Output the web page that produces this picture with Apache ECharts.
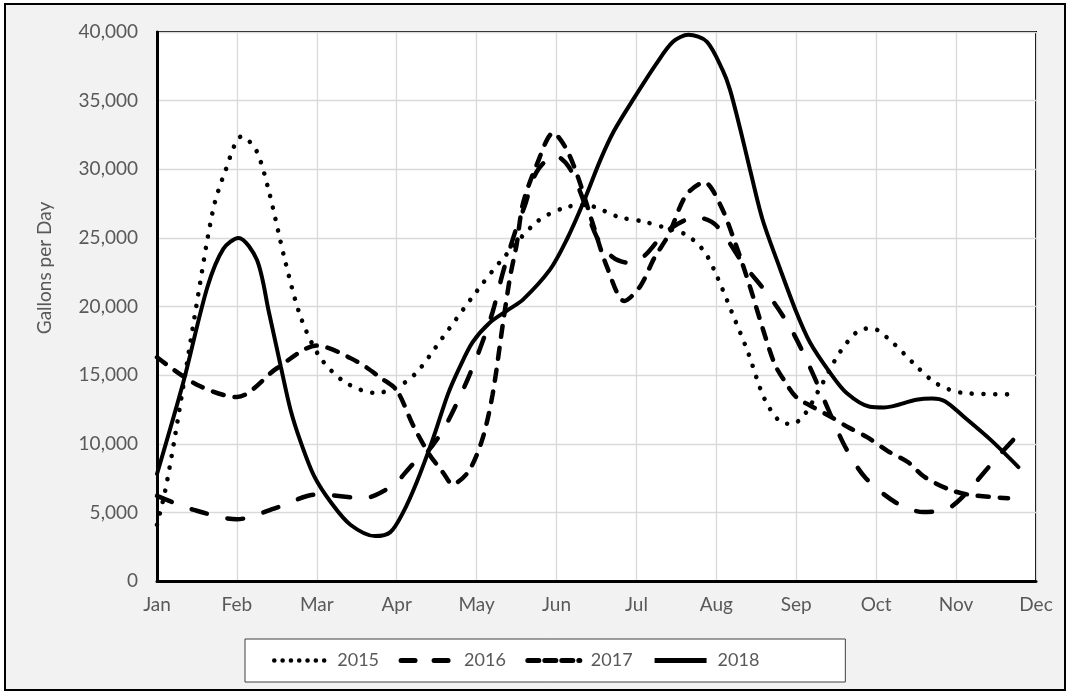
<!DOCTYPE html>
<html>
<head>
<meta charset="utf-8">
<script src="https://cdn.jsdelivr.net/npm/echarts@6/dist/echarts.min.js"></script>
<style>
  html, body { margin: 0; padding: 0; background: #ffffff; }
  #chart { width: 1071px; height: 696px; }
</style>
</head>
<body>
<div id="chart"></div>
<script>
// Month tick labels along the x axis (one tick per month start).
const monthLabels = ['Jan', 'Feb', 'Mar', 'Apr', 'May', 'Jun', 'Jul', 'Aug', 'Sep', 'Oct', 'Nov', 'Dec'];

// Readings per year: [position in months from Jan 1, gallons per day].
const use2015 = [[0, 4100], [0.10, 6500], [0.23, 10700], [0.48, 19600], [0.70, 27000], [0.85, 29800],
  [1.06, 32400], [1.24, 31400], [1.40, 28400], [1.60, 23400], [1.80, 19200], [2.04, 16300],
  [2.35, 14500], [2.73, 13700], [3.00, 14100], [3.25, 15200], [3.57, 17700], [4.00, 21100],
  [4.30, 23300], [4.76, 26200], [5.10, 27200], [5.35, 27400], [5.79, 26500], [6.08, 26200],
  [6.38, 25700], [6.63, 25200], [6.85, 24000], [7.00, 22300], [7.20, 19500], [7.40, 16600],
  [7.60, 13300], [7.80, 11600], [7.95, 11450], [8.10, 12100], [8.30, 14100], [8.55, 16700],
  [8.80, 18300], [8.95, 18400], [9.20, 17400], [9.46, 15900], [9.75, 14400], [10.09, 13700],
  [10.65, 13600]];

const use2016 = [[0, 6200], [0.45, 5200], [1.0, 4500], [1.5, 5350], [2.0, 6300], [2.6, 6050],
  [2.85, 6600], [3.0, 7200], [3.2, 8500], [3.39, 9450], [3.6, 11200], [3.85, 14200], [4.04, 16900],
  [4.2, 19600], [4.33, 22500], [4.48, 25400], [4.6, 27300], [4.75, 29800], [4.98, 31000],
  [5.15, 30200], [5.3, 28300], [5.5, 25100], [5.7, 23600], [5.89, 23200], [6.1, 23700],
  [6.38, 25500], [6.75, 26500], [7.0, 25900], [7.35, 23000], [7.67, 20700], [7.95, 18200],
  [8.2, 15200], [8.4, 12500], [8.61, 9800], [8.86, 7560], [9.24, 5740], [9.59, 5020], [9.9, 5300],
  [10.09, 6180], [10.46, 8650], [10.78, 10700]];

const use2017 = [[0, 16300], [0.5, 14300], [1.0, 13400], [1.5, 15500], [2.0, 17150], [2.5, 16000],
  [2.8, 14800], [3.0, 13900], [3.2, 11400], [3.4, 9300], [3.58, 7900], [3.7, 7050], [3.9, 8000],
  [4.07, 10300], [4.2, 13600], [4.33, 18800], [4.42, 22200], [4.5, 24500], [4.58, 27500],
  [4.75, 30300], [4.96, 32650], [5.12, 31500], [5.27, 29400], [5.45, 26100], [5.63, 22900],
  [5.85, 20400], [6.05, 21500], [6.22, 23500], [6.4, 25200], [6.62, 28100], [6.85, 29050],
  [7.05, 27400], [7.25, 24400], [7.42, 21450], [7.58, 18400], [7.73, 15800], [7.85, 14600],
  [8.0, 13400], [8.2, 12700], [8.42, 12000], [8.65, 11200], [8.88, 10500], [9.15, 9450],
  [9.4, 8650], [9.6, 7600], [9.9, 6700], [10.15, 6300], [10.65, 6030]];

const use2018 = [[0, 7800], [0.33, 14500], [0.63, 21400], [0.83, 24200], [1.02, 25000], [1.25, 23400],
  [1.4, 19600], [1.55, 15600], [1.67, 12500], [1.8, 10100], [1.97, 7600], [2.18, 5700], [2.42, 4100],
  [2.73, 3270], [2.92, 3560], [3.08, 5000], [3.25, 7200], [3.45, 10300], [3.64, 13600], [3.79, 15600],
  [3.95, 17400], [4.16, 18800], [4.38, 19700], [4.58, 20500], [4.92, 22700], [5.13, 24900],
  [5.33, 27500], [5.55, 30700], [5.72, 32800], [5.95, 35000], [6.25, 37700], [6.46, 39300],
  [6.65, 39800], [6.88, 39300], [7.08, 37200], [7.17, 35800], [7.3, 32900], [7.42, 30000],
  [7.58, 26300], [7.8, 22700], [8.0, 19600], [8.17, 17400], [8.42, 15200], [8.63, 13700],
  [8.92, 12700], [9.1, 12650], [9.5, 13200], [9.7, 13300], [9.86, 13100], [10.09, 12000],
  [10.43, 10300], [10.78, 8300]];

const seriesNames = ['2015', '2016', '2017', '2018'];

const FONT = 'Lato, "Open Sans", sans-serif';
const TEXT_GREY = '#595959';

// Stroke patterns: dotted, long dash, short dash, solid.
const strokeStyles = [
  { width: 4.6, type: [0.01, 11.7], cap: 'round' },
  { width: 4.5, type: [16, 21], cap: 'round' },
  { width: 4.5, type: [11, 11], cap: 'round' },
  { width: 4, type: 'solid', cap: 'round' }
];
const legendStrokes = [
  { width: 4.6, type: [0.01, 8.3], cap: 'round', color: '#000' },
  { width: 5, type: [14, 19], cap: 'round', color: '#000' },
  { width: 5, type: [11, 6], cap: 'round', color: '#000' },
  { width: 5, type: 'solid', cap: 'butt', color: '#000' }
];

const dataSets = [use2015, use2016, use2017, use2018];

const chart = echarts.init(document.getElementById('chart'), null, { renderer: 'canvas' });

chart.setOption({
  animation: false,
  backgroundColor: '#ffffff',
  graphic: [
    {
      type: 'rect',
      z: -100,
      shape: { x: 5, y: 4, width: 1060, height: 686 },
      style: { fill: '#f2f2f2', stroke: '#000000', lineWidth: 2 }
    },
    {
      type: 'text',
      x: 45,
      y: 268,
      rotation: Math.PI / 2,
      style: {
        text: 'Gallons per Day',
        fill: TEXT_GREY,
        font: '19px ' + FONT,
        align: 'center',
        verticalAlign: 'middle'
      }
    }
  ],
  grid: {
    left: 157, top: 32, right: 35, bottom: 115,
    show: true,
    backgroundColor: '#ffffff',
    borderColor: '#000000',
    borderWidth: 2,
    outerBoundsMode: 'none'
  },
  xAxis: {
    type: 'value',
    min: 0, max: 11, interval: 1,
    axisLine: { show: true, lineStyle: { color: '#000000', width: 3 } },
    axisTick: { show: false },
    axisLabel: {
      formatter: (v) => monthLabels[Math.round(v)],
      color: TEXT_GREY, fontSize: 19, fontFamily: FONT, margin: 14
    },
    splitLine: { show: true, lineStyle: { color: '#d9d9d9', width: 1.3 } }
  },
  yAxis: {
    type: 'value',
    min: 0, max: 40000, interval: 5000,
    axisLine: { show: true, lineStyle: { color: '#000000', width: 3 } },
    axisTick: { show: false },
    axisLabel: {
      formatter: (v) => v.toLocaleString('en-US'),
      color: TEXT_GREY, fontSize: 19, fontFamily: FONT, margin: 19
    },
    splitLine: { show: true, lineStyle: { color: '#d9d9d9', width: 1.3 } }
  },
  legend: {
    left: 245, top: 639,
    orient: 'horizontal',
    backgroundColor: '#ffffff',
    borderColor: '#404040',
    borderWidth: 1,
    padding: [12, 86, 12, 27],
    itemWidth: 52, itemHeight: 16, itemGap: 19.5,
    itemStyle: { opacity: 0 },
    textStyle: { color: TEXT_GREY, fontSize: 18, fontFamily: FONT, padding: [0, 0, 0, 6], lineHeight: 19 },
    data: seriesNames.map((n, i) => ({ name: n, lineStyle: legendStrokes[i], itemStyle: { opacity: 0 } }))
  },
  series: seriesNames.map((n, i) => ({
    name: n,
    type: 'line',
    data: dataSets[i],
    smooth: 0.3,
    symbol: 'none',
    lineStyle: Object.assign({ color: '#000000' }, strokeStyles[i]),
    itemStyle: { color: '#000000' },
    emphasis: { disabled: true }
  }))
});
</script>
</body>
</html>
